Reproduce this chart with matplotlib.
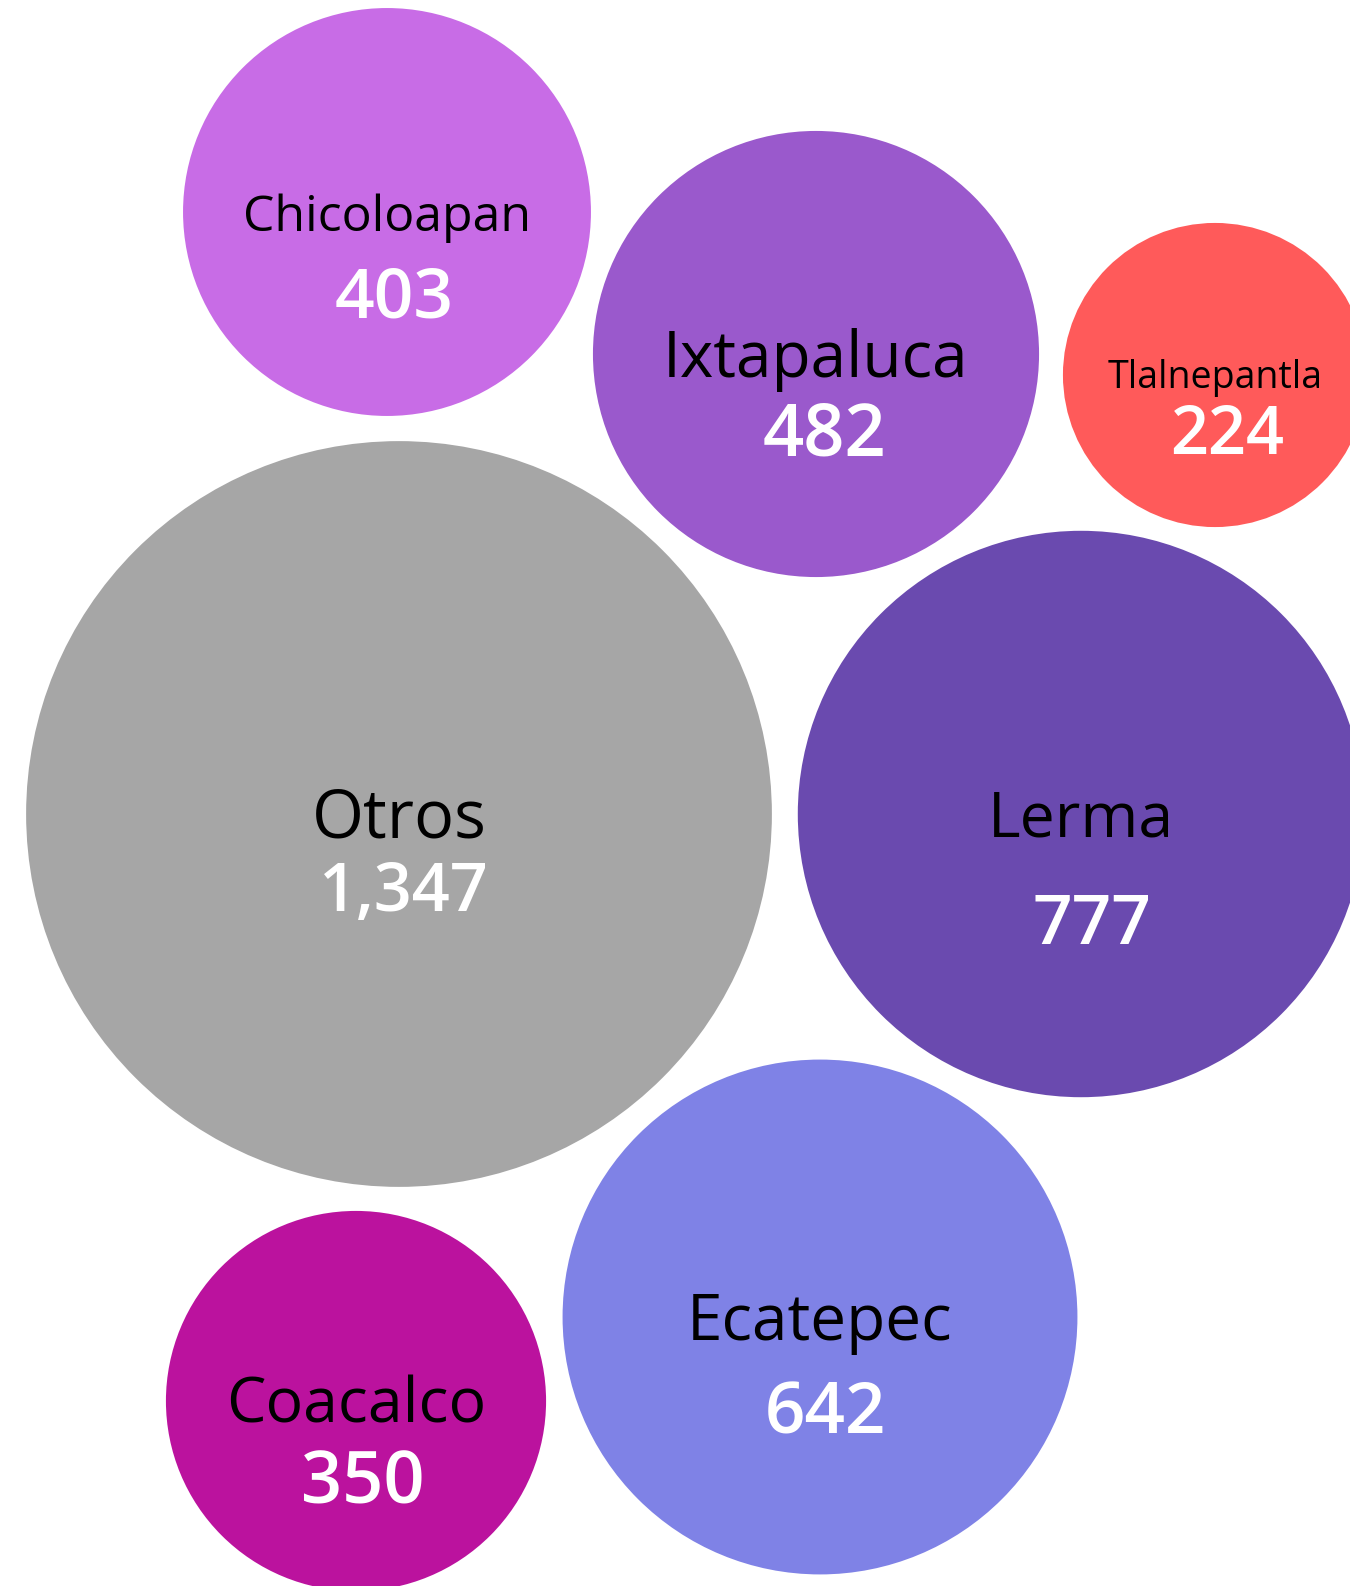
import numpy as np
import matplotlib.pyplot as plt
from matplotlib.patches import Circle

# Datos
municipios = ['Chicoloapan', 'Ixtapaluca', 'Tlalnepantla', 'Otros', 'Lerma', 'Ecatepec', 'Coacalco']
casos = [403, 482, 224, 1347, 777, 642, 350]
colores = ['#C86CE6', '#9A59CC', '#FF5A5A', '#A6A6A6', '#6A4AAF', '#7F82E6', '#BB129E']

# Posiciones de las burbujas (layout, en pixeles)
centro_x = [387, 816, 1215, 399, 1081, 820, 356]
centro_y = [212, 354, 375, 814, 814, 1317, 1401]
escala = 10.16  # radio = escala * sqrt(valor)

# Texto: tamaño y desplazamientos
tam_nombre = [36, 46, 27, 48, 45, 46, 45]
tam_valor = [50, 52, 48, 48, 50, 51, 52]
dy_nombre = [6, 6, 3, 6, 6, 6, 5]
dy_valor = [88, 83, 61, 80, 113, 99, 83]
dx_valor = [7, 9, 12, 5, 11, 5, 7]

fig = plt.figure(figsize=(13.5, 15.86), dpi=100)
ax = fig.add_axes([0, 0, 1, 1])
ax.set_xlim(0, 1350)
ax.set_ylim(1586, 0)
ax.axis('off')

for i, nombre in enumerate(municipios):
    r = escala * np.sqrt(casos[i])
    ax.add_patch(Circle((centro_x[i], centro_y[i]), r, color=colores[i], lw=0))
    ax.text(centro_x[i], centro_y[i] + dy_nombre[i], nombre, ha='center', va='center',
            fontsize=tam_nombre[i], family='Open Sans', color='black')
    ax.text(centro_x[i] + dx_valor[i], centro_y[i] + dy_valor[i], f'{casos[i]:,}',
            ha='center', va='center', fontsize=tam_valor[i], family='Open Sans',
            fontweight='semibold', color='white')

fig.savefig('out.png', dpi=100)
